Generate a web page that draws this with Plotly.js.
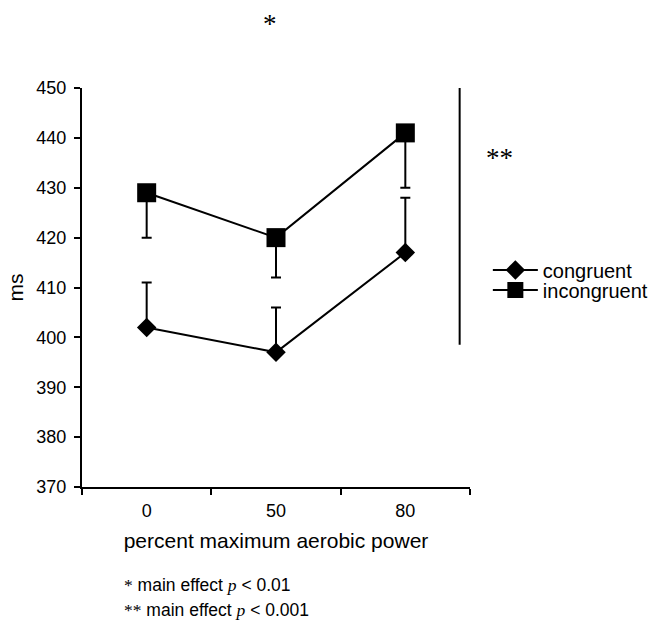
<!DOCTYPE html>
<html>
<head>
<meta charset="utf-8">
<script src="https://cdn.plot.ly/plotly-3.0.1.min.js"></script>
<style>
  html, body { margin: 0; padding: 0; background: #fff; }
  #chart { width: 657px; height: 621px; }
</style>
</head>
<body>
<div id="chart"></div>
<script>
// Exercise intensity conditions (percent maximum aerobic power)
const intensity = ['0', '50', '80'];

// Mean reaction times (ms)
const congruent = [402, 397, 417];
const incongruent = [429, 420, 441];

// One-sided error bars: congruent drawn upward, incongruent drawn downward
const congruentErrUp = [9, 9, 11];
const incongruentErrDown = [9, 8, 11];

const yTicks = [370, 380, 390, 400, 410, 420, 430, 440, 450];

const FONT = 'Liberation Sans, Arial, Helvetica, sans-serif';
const SERIF = 'Liberation Serif, Times New Roman, serif';

const traces = [
  {
    name: 'congruent',
    legend: 'legend',
    x: intensity,
    y: congruent,
    type: 'scatter',
    mode: 'lines+markers',
    line: { color: '#000', width: 2 },
    marker: { symbol: 'diamond', size: 15, color: '#000' },
    error_y: {
      type: 'data', symmetric: false,
      array: congruentErrUp, arrayminus: [0, 0, 0],
      color: '#000', thickness: 2, width: 5
    },
    cliponaxis: false
  },
  {
    name: 'incongruent',
    legend: 'legend2',
    x: intensity,
    y: incongruent,
    type: 'scatter',
    mode: 'lines+markers',
    line: { color: '#000', width: 2 },
    marker: { symbol: 'square', size: 19, color: '#000' },
    error_y: {
      type: 'data', symmetric: false,
      array: [0, 0, 0], arrayminus: incongruentErrDown,
      color: '#000', thickness: 2, width: 5
    },
    cliponaxis: false
  }
];

const legendStyle = {
  xanchor: 'left', yanchor: 'middle',
  font: { family: FONT, size: 20, color: '#000' },
  bgcolor: 'rgba(0,0,0,0)',
  itemwidth: 45
};

const layout = {
  width: 657,
  height: 621,
  margin: { l: 82, r: 187, t: 88, b: 134, autoexpand: false },
  paper_bgcolor: '#fff',
  plot_bgcolor: '#fff',
  font: { family: FONT, color: '#000', size: 18 },
  showlegend: true,
  legend: Object.assign({ x: 1.046, y: 0.544 }, legendStyle),
  legend2: Object.assign({ x: 1.046, y: 0.494 }, legendStyle),
  xaxis: {
    type: 'category',
    range: [-0.5, 2.5],
    tickson: 'boundaries',
    ticks: 'outside',
    ticklen: 6,
    tickwidth: 2,
    tickcolor: '#000',
    ticklabelstandoff: 6,
    showline: true,
    linecolor: '#000',
    linewidth: 2,
    showgrid: false,
    zeroline: false,
    fixedrange: true,
    automargin: false,
    tickfont: { family: FONT, size: 18 },
    title: { text: 'percent maximum aerobic power', font: { family: FONT, size: 21 }, standoff: 14 }
  },
  yaxis: {
    range: [370, 450],
    tickvals: yTicks,
    ticks: 'outside',
    ticklen: 6,
    tickwidth: 2,
    tickcolor: '#000',
    ticklabelstandoff: 4,
    showline: true,
    linecolor: '#000',
    linewidth: 2,
    showgrid: false,
    zeroline: false,
    fixedrange: true,
    automargin: false,
    tickfont: { family: FONT, size: 18 },
    title: { text: 'ms', font: { family: FONT, size: 21 }, standoff: 7 }
  },
  shapes: [
    // main effect of intensity
    { type: 'line', xref: 'x', yref: 'y', x0: -0.15, x1: 1.94, y0: 450.6, y1: 450.6,
      line: { color: '#000', width: 2 } },
    // main effect of congruency
    { type: 'line', xref: 'x', yref: 'y', x0: 2.42, x1: 2.42, y0: 398.5, y1: 450.6,
      line: { color: '#000', width: 2 } }
  ],
  annotations: [
    { text: '*', xref: 'paper', yref: 'paper', x: 0.485, y: 1.16,
      xanchor: 'center', yanchor: 'middle', showarrow: false,
      font: { family: SERIF, size: 27, color: '#000' } },
    { text: '**', xref: 'paper', yref: 'paper', x: 1.075, y: 0.825,
      xanchor: 'center', yanchor: 'middle', showarrow: false,
      font: { family: SERIF, size: 27, color: '#000' } },
    { text: '<span style="font-family:Liberation Serif">*</span> main effect <span style="font-family:Liberation Serif;font-style:italic">p</span> &lt; 0.01',
      xref: 'paper', yref: 'paper', x: 0.104, y: -0.2456, xanchor: 'left', yanchor: 'middle',
      showarrow: false, font: { family: FONT, size: 17.5, color: '#000' } },
    { text: '<span style="font-family:Liberation Serif">**</span> main effect <span style="font-family:Liberation Serif;font-style:italic">p</span> &lt; 0.001',
      xref: 'paper', yref: 'paper', x: 0.104, y: -0.308, xanchor: 'left', yanchor: 'middle',
      showarrow: false, font: { family: FONT, size: 17.5, color: '#000' } }
  ]
};

Plotly.newPlot('chart', traces, layout, { displayModeBar: false, staticPlot: true });
</script>
</body>
</html>
